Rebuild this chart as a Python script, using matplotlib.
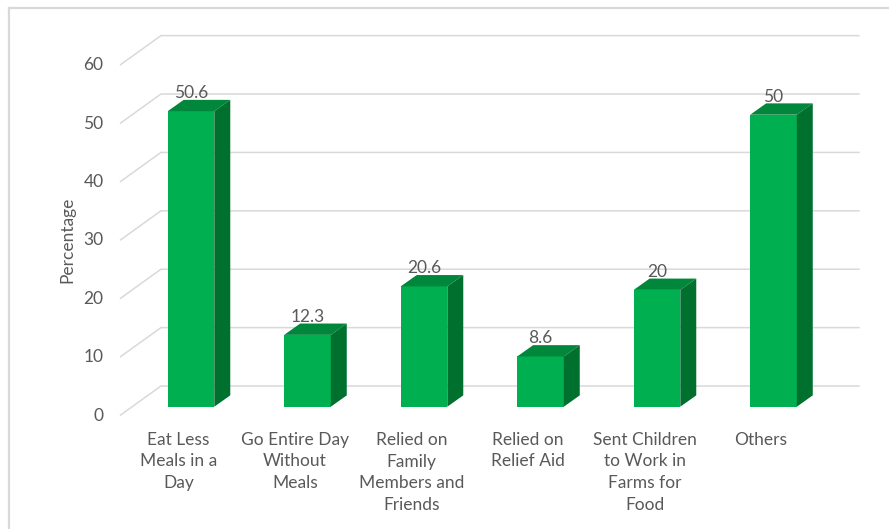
import matplotlib
matplotlib.use("Agg")
from matplotlib import pyplot as plt
from matplotlib.patches import Polygon

# chart data
categories = ["Eat Less\nMeals in a\nDay", "Go Entire Day\nWithout\nMeals",
              "Relied on\nFamily\nMembers and\nFriends", "Relied on\nRelief Aid",
              "Sent Children\nto Work in\nFarms for\nFood", "Others"]
values = [50.6, 12.3, 20.6, 8.6, 20, 50]
ticks = [0, 10, 20, 30, 40, 50, 60]
ylabel = "Percentage"

# look of the fake 3D box (data units: x = category, y = percent)
bar_w = 0.40
depth_dx, depth_dy = 0.137, 1.94      # bar depth offset
front_x, front_dy = -0.61, -1.51      # left wall, front edge
back_x, back_dy = -0.258, 3.54        # left wall, back edge
back_right = 5.74
grid_c = "#D9D9D9"
txt_c = "#595959"
face_c, top_c, side_c = "#00B050", "#00873B", "#00702F"
font = "Lato"

fig = plt.figure(figsize=(8.89, 5.29), dpi=100)
ax = fig.add_axes([0, 0, 1, 1])
ax.set_xlim(-191 / 116.5, (889 - 191) / 116.5)
ax.set_ylim((406.7 - 529) / 5.84, 406.7 / 5.84)
ax.axis("off")

# gridlines: left wall diagonals + back wall lines
for t in ticks:
    ax.plot([front_x, back_x, back_right], [t + front_dy, t + back_dy, t + back_dy],
            color=grid_c, lw=1.1, zorder=1, solid_capstyle="butt")
    ax.text(front_x - 0.14, t + front_dy, str(t), ha="right", va="center",
            fontsize=12.5, color=txt_c, family=font)

# bars
xs = list(range(len(values)))
ax.bar(xs, values, width=bar_w, color=face_c, zorder=3, linewidth=0)
for x, v in zip(xs, values):
    l, r = x - bar_w / 2, x + bar_w / 2
    top = [(l, v), (r, v), (r + depth_dx, v + depth_dy), (l + depth_dx, v + depth_dy)]
    side = [(r, 0), (r + depth_dx, depth_dy), (r + depth_dx, v + depth_dy), (r, v)]
    ax.add_patch(Polygon(top, closed=True, facecolor=top_c, edgecolor="none", zorder=3))
    ax.add_patch(Polygon(side, closed=True, facecolor=side_c, edgecolor="none", zorder=3))
    ax.text(x, v + depth_dy + 0.3, f"{v:g}", ha="center", va="baseline",
            fontsize=12.5, color=txt_c, family=font, zorder=4)

# category labels (at front plane)
for x, c in zip(xs, categories):
    ax.text(x - 0.107, -4.25, c, ha="center", va="top", fontsize=12.5,
            color=txt_c, family=font, linespacing=1.46)

ax.text(-1.06, (406.7 - 240) / 5.84, ylabel, rotation=90, ha="center", va="center",
        fontsize=12.5, color=txt_c, family=font)

# chart border (cropped on right/bottom)
fig.add_artist(plt.Line2D([8.5 / 889, 8.5 / 889], [0, 1 - 7.5 / 529], color=grid_c,
                          lw=1.6, transform=fig.transFigure))
fig.add_artist(plt.Line2D([8.5 / 889, 1], [1 - 7.5 / 529, 1 - 7.5 / 529], color=grid_c,
                          lw=1.6, transform=fig.transFigure))

fig.savefig("out.png", dpi=100, facecolor="white")
